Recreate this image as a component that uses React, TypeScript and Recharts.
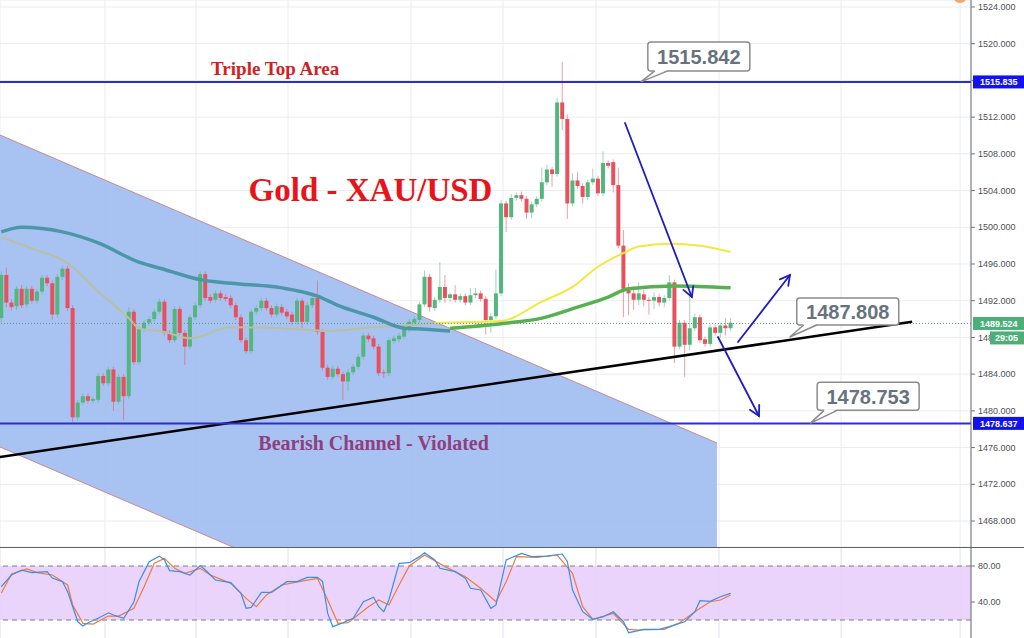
import React from 'react';
import {
  ComposedChart,
  Bar,
  Line,
  Area,
  XAxis,
  YAxis,
  CartesianGrid,
  ReferenceLine,
  ReferenceDot,
  ReferenceArea,
} from 'recharts';

// OHLC per candle (index = position on the time axis)
const candles: [number, number, number, number][] = [
  [1490.1, 1495.2, 1489.6, 1494.8], [1494.8, 1495.6, 1491.3, 1491.8], [1491.8, 1492.2, 1490.9, 1491.3],
  [1491.4, 1493.6, 1491.0, 1493.3], [1493.3, 1493.7, 1491.2, 1491.5], [1491.6, 1493.6, 1491.3, 1493.3],
  [1493.3, 1493.6, 1491.7, 1492.0], [1492.0, 1493.3, 1491.7, 1493.0], [1493.0, 1494.8, 1492.7, 1494.5],
  [1494.5, 1494.8, 1493.6, 1493.9], [1493.9, 1494.2, 1489.9, 1490.5], [1490.5, 1494.9, 1490.2, 1494.6],
  [1494.6, 1495.8, 1494.3, 1495.5], [1495.5, 1495.8, 1490.9, 1491.2], [1491.2, 1491.5, 1478.8, 1479.3],
  [1479.3, 1481.2, 1478.9, 1480.9], [1480.9, 1481.9, 1480.6, 1481.6], [1481.6, 1481.9, 1480.8, 1481.1],
  [1481.1, 1481.5, 1480.8, 1481.3], [1481.2, 1484.1, 1480.9, 1483.8], [1483.8, 1484.1, 1482.7, 1483.0],
  [1483.0, 1484.8, 1482.7, 1484.5], [1484.5, 1484.8, 1480.0, 1481.0], [1481.0, 1484.0, 1480.7, 1483.7],
  [1483.7, 1484.0, 1479.0, 1481.6], [1481.6, 1491.3, 1481.3, 1490.8], [1490.8, 1491.1, 1485.0, 1485.3],
  [1485.3, 1489.2, 1485.0, 1488.9], [1488.9, 1489.9, 1488.6, 1489.6], [1489.6, 1490.3, 1489.3, 1490.0],
  [1490.0, 1491.1, 1489.7, 1490.8], [1490.8, 1492.2, 1490.5, 1491.9], [1491.9, 1492.2, 1488.2, 1488.5],
  [1488.5, 1488.8, 1487.4, 1487.7], [1487.7, 1491.4, 1487.4, 1491.1], [1491.1, 1491.4, 1488.2, 1488.5],
  [1488.5, 1488.8, 1485.0, 1487.0], [1487.0, 1490.5, 1486.7, 1490.2], [1490.2, 1491.8, 1489.9, 1491.5],
  [1491.5, 1495.2, 1491.2, 1494.9], [1494.9, 1495.2, 1492.0, 1492.3], [1492.4, 1492.7, 1491.7, 1492.0],
  [1492.1, 1493.1, 1491.8, 1492.8], [1492.8, 1493.1, 1492.0, 1492.3], [1492.4, 1492.7, 1491.9, 1492.2],
  [1492.3, 1492.6, 1491.2, 1491.5], [1491.5, 1491.8, 1489.9, 1490.2], [1490.2, 1490.5, 1487.4, 1487.7],
  [1487.7, 1488.0, 1486.2, 1486.5], [1486.5, 1491.1, 1486.2, 1490.8], [1490.8, 1491.5, 1490.5, 1491.2],
  [1491.2, 1492.3, 1490.9, 1492.0], [1492.0, 1492.3, 1490.9, 1491.2], [1491.2, 1491.5, 1490.2, 1490.5],
  [1490.5, 1491.7, 1490.2, 1491.4], [1491.3, 1491.6, 1490.4, 1490.7], [1490.8, 1491.1, 1490.0, 1490.3],
  [1490.5, 1490.8, 1489.4, 1489.7], [1489.7, 1492.3, 1489.4, 1492.0], [1492.0, 1492.3, 1489.0, 1489.7],
  [1489.7, 1491.8, 1489.4, 1491.5], [1491.5, 1492.6, 1491.2, 1492.3], [1492.3, 1494.2, 1488.3, 1488.6],
  [1488.6, 1488.9, 1484.4, 1484.7], [1484.7, 1485.0, 1483.4, 1483.7], [1483.7, 1484.9, 1483.4, 1484.6],
  [1484.6, 1484.9, 1483.7, 1484.0], [1484.0, 1484.3, 1481.2, 1483.2], [1483.2, 1484.5, 1482.2, 1484.2],
  [1484.2, 1485.1, 1483.9, 1484.8], [1484.8, 1486.2, 1484.5, 1485.9], [1485.9, 1488.5, 1485.6, 1488.2],
  [1488.2, 1488.5, 1487.5, 1487.8], [1487.9, 1488.2, 1486.7, 1487.0], [1487.0, 1487.3, 1483.8, 1484.1],
  [1484.2, 1484.5, 1483.6, 1484.1], [1484.1, 1488.0, 1483.8, 1487.7], [1487.6, 1488.2, 1487.3, 1487.9],
  [1487.8, 1488.5, 1487.5, 1488.2], [1488.1, 1489.3, 1487.8, 1489.0], [1488.9, 1490.0, 1488.6, 1489.7],
  [1489.6, 1490.3, 1489.3, 1490.0], [1489.9, 1491.9, 1489.6, 1491.6], [1491.6, 1495.3, 1491.3, 1494.6],
  [1494.6, 1494.9, 1490.8, 1491.3], [1491.2, 1492.4, 1490.9, 1492.1], [1492.1, 1496.2, 1491.8, 1493.5],
  [1493.5, 1494.8, 1491.8, 1492.3], [1492.3, 1492.9, 1491.9, 1492.7], [1492.7, 1493.7, 1491.8, 1492.1],
  [1492.1, 1492.8, 1491.8, 1492.5], [1492.5, 1492.8, 1491.5, 1491.8], [1491.8, 1493.4, 1491.5, 1492.6],
  [1492.6, 1493.4, 1492.3, 1492.8], [1492.8, 1493.1, 1491.9, 1492.2], [1492.2, 1492.5, 1488.3, 1489.9],
  [1489.9, 1490.6, 1488.5, 1490.3], [1490.3, 1495.4, 1490.0, 1492.8], [1492.8, 1503.0, 1492.5, 1502.6],
  [1502.6, 1502.9, 1499.5, 1501.1], [1501.1, 1503.6, 1500.8, 1503.2], [1503.2, 1503.8, 1502.9, 1503.5],
  [1503.5, 1503.9, 1502.8, 1503.1], [1503.1, 1503.4, 1500.9, 1501.6], [1501.6, 1502.8, 1501.0, 1502.5],
  [1502.5, 1503.4, 1502.2, 1503.1], [1503.1, 1506.5, 1502.8, 1504.9], [1504.9, 1506.8, 1504.6, 1506.3],
  [1506.3, 1506.6, 1504.4, 1505.8], [1505.8, 1514.1, 1505.5, 1513.6], [1513.6, 1518.0, 1510.6, 1511.8],
  [1511.8, 1512.3, 1500.9, 1502.6], [1502.6, 1505.9, 1502.3, 1505.1], [1505.1, 1506.0, 1504.2, 1504.5],
  [1504.5, 1504.8, 1502.6, 1503.3], [1503.3, 1505.2, 1503.0, 1504.9], [1504.9, 1506.4, 1504.6, 1505.3],
  [1505.3, 1505.6, 1503.4, 1503.7], [1503.7, 1508.3, 1503.4, 1507.0], [1507.0, 1507.3, 1506.4, 1506.7],
  [1507.1, 1507.4, 1503.8, 1504.6], [1504.6, 1506.5, 1497.7, 1498.0], [1498.0, 1499.7, 1490.2, 1493.3],
  [1493.3, 1493.9, 1490.4, 1492.8], [1492.8, 1493.6, 1491.0, 1492.1], [1492.1, 1494.0, 1491.5, 1492.8],
  [1492.7, 1493.2, 1491.4, 1492.1], [1492.1, 1492.4, 1490.5, 1492.0], [1492.0, 1492.9, 1491.1, 1492.4],
  [1492.4, 1492.7, 1491.4, 1491.8], [1491.8, 1492.6, 1491.3, 1492.3], [1492.3, 1494.8, 1492.0, 1494.0],
  [1494.0, 1494.3, 1485.2, 1487.0], [1487.0, 1489.9, 1486.7, 1489.6], [1489.6, 1489.9, 1483.7, 1487.2],
  [1487.2, 1492.6, 1486.6, 1489.0], [1489.0, 1490.6, 1488.7, 1490.2], [1490.2, 1490.5, 1487.4, 1487.7],
  [1487.8, 1488.1, 1487.0, 1487.3], [1487.3, 1489.4, 1487.0, 1489.1], [1489.1, 1489.4, 1488.2, 1488.5],
  [1488.5, 1489.6, 1488.0, 1489.3], [1489.3, 1490.1, 1488.2, 1489.0], [1489.0, 1490.1, 1488.7, 1489.6],
];

// moving averages read as [candle index, price]
const maPale: [number, number][] = [
  [0, 1498.9], [6, 1497.7], [13, 1496.1], [19, 1493.0], [25, 1490.1], [27, 1489.0], [32, 1488.6],
  [37, 1487.9], [45, 1489.1], [55, 1489.0], [64, 1488.7], [73, 1489.1], [79, 1489.3], [85, 1489.6],
];
const maYellow: [number, number][] = [
  [85, 1489.6], [98, 1489.8], [106, 1491.9], [112, 1493.5], [117, 1495.7], [122, 1497.2],
  [125, 1497.9], [131, 1498.2], [137, 1498.0], [143, 1497.3],
];
const maTeal: [number, number][] = [
  [0, 1499.5], [4, 1500.0], [12, 1499.5], [19, 1498.3], [27, 1496.2], [32, 1495.4], [39, 1494.3],
  [45, 1493.9], [55, 1493.4], [62, 1492.5], [66, 1491.5], [73, 1490.2], [79, 1489.0], [83, 1488.9], [88, 1488.7],
];
const maGreen: [number, number][] = [
  [88, 1489.0], [98, 1489.5], [106, 1490.1], [113, 1491.3], [119, 1492.4], [123, 1493.3], [132, 1493.6], [143, 1493.4],
];

// stochastic %K / %D as [candle index, value]
const stochK: [number, number][] = [
  [0, 57], [2, 70], [4, 75.5], [6, 72.6], [9, 73.7], [10, 66.6], [12, 62.6], [13, 51.5], [15, 18], [16, 13.3],
  [17, 17], [19, 22], [21, 28], [22, 25.5], [24, 22], [26, 40], [27, 62.6], [29, 84.8], [31, 91], [32, 86.7],
  [33, 74.8], [35, 73.7], [37, 70], [39, 80.4], [40, 75.5], [42, 64.4], [45, 61.5], [47, 49.6], [48, 33], [49, 34],
  [51, 50.7], [53, 50.7], [56, 62.6], [58, 62.6], [60, 67.4], [62, 67.4], [63, 62.6], [64, 27.4], [65, 12.6],
  [67, 17], [69, 21.9], [71, 40.3], [73, 45.2], [74, 34.8], [75, 29.2], [76, 42.2], [78, 83], [80, 83.7],
  [82, 90.4], [83, 94.8], [85, 86.7], [86, 77.4], [89, 73.7], [91, 66.3], [92, 55.2], [94, 53.3], [96, 33],
  [97, 36.7], [99, 86.7], [102, 94], [104, 90.4], [107, 91], [110, 93.3], [111, 84.8], [112, 53.3], [114, 29.2],
  [116, 20.7], [118, 23.7], [120, 29.2], [122, 18.1], [123, 5.9], [126, 9.6], [129, 9.6], [131, 12.6],
  [134, 18.1], [136, 29.2], [137, 41.5], [139, 40.7], [141, 45.9], [143, 49.6],
];
const stochD: [number, number][] = [
  [0, 50], [2, 71], [5, 76.7], [7, 72.6], [10, 70], [13, 58.9], [14, 36.7], [16, 16.3], [18, 15.5], [21, 24.4],
  [23, 24.4], [26, 33], [28, 57], [30, 83], [32, 88.5], [34, 77.4], [36, 71.9], [39, 77.4], [41, 70], [45, 60.7],
  [48, 44], [50, 34.8], [52, 47.8], [55, 58.9], [60, 64.4], [62, 66.3], [64, 42.2], [66, 16.3], [68, 17],
  [72, 34.8], [74, 42.2], [76, 36.7], [78, 58.9], [80, 80], [83, 92.2], [87, 79.3], [91, 68.1], [94, 55.2],
  [97, 40.3], [99, 62.6], [101, 90.4], [105, 89.6], [109, 92.2], [112, 71.9], [114, 34.8], [116, 20.7],
  [120, 27.4], [123, 9.6], [125, 8.9], [130, 9.6], [133, 17], [137, 33], [139, 40.3], [141, 42.2], [143, 47.8],
];

// bearish channel edges [index, lower, upper]
const channel: [number, number, number][] = [
  [-0.255, 1476.07, 1510.05],
  [140.33, 1442.5, 1476.5],
];

const priceTicks = [1468, 1472, 1476, 1480, 1484, 1488, 1492, 1496, 1500, 1504, 1508, 1512, 1516, 1520, 1524];
const stochTicks = [40, 80];
const sessionBreaks = [20.33, 38.18, 56.22, 80.33, 98.37, 116.6, 140.73, 164.67, 188.0];

const tripleTop = 1515.835;
const support = 1478.637;
const lastPrice = 1489.524;
const countdown = '29:05';

const trendLine = [{ x: -0.255, y: 1474.98 }, { x: 178.6, y: 1489.72 }];
const arrows = [
  [{ x: 122.3, y: 1511.36 }, { x: 135.4, y: 1492.41 }],
  [{ x: 144.45, y: 1487.51 }, { x: 154.65, y: 1494.8 }],
  [{ x: 140.53, y: 1488.05 }, { x: 148.57, y: 1479.44 }],
];
const callouts = [
  { x: 125.4, y: 1515.84, text: '1515.842', up: 40, h: 29 },
  { x: 154.6, y: 1488.05, text: '1487.808', up: 39, h: 27 },
  { x: 158.6, y: 1478.64, text: '1478.753', up: 41, h: 28 },
];

const X_DOMAIN: [number, number] = [-0.255, 190.14];
const PRICE_DOMAIN: [number, number] = [1465.17, 1524.76];

const GREEN = '#53b67f';
const RED = '#e9505e';
const SANS = '"Liberation Sans", Arial, sans-serif';
const SERIF = '"Liberation Serif", "Times New Roman", serif';
const MARGIN = { top: 0, right: 0, bottom: 0, left: 0 };

const lookup = (pairs: [number, number][], i: number) => {
  const hit = pairs.find((p) => p[0] === i);
  return hit ? hit[1] : null;
};

const rows = candles.map(([o, h, l, c], i) => ({
  i,
  o,
  h,
  l,
  c,
  range: [l, h],
  pale: lookup(maPale, i),
  yellow: lookup(maYellow, i),
  teal: lookup(maTeal, i),
  green: lookup(maGreen, i),
}));

const stochRows = candles.map((_, i) => ({ i, k: lookup(stochK, i), d: lookup(stochD, i) }));
const channelRows = channel.map(([i, lo, hi]) => ({ i, band: [lo, hi] }));

function Candle(props: any) {
  const { x, y, width, height, payload } = props;
  if (!payload || x == null || y == null) return null;
  const { o, h, l, c } = payload;
  const top = Math.min(y, y + height);
  const span = Math.abs(height) || 1;
  const toY = (p: number) => top + ((h - p) / (h - l)) * span;
  const color = c >= o ? GREEN : RED;
  const bodyTop = toY(Math.max(o, c));
  const bodyH = Math.max(1, toY(Math.min(o, c)) - bodyTop);
  const cx = x + width / 2;
  return (
    <g>
      <line x1={cx} x2={cx} y1={top} y2={top + span} stroke={color} strokeWidth={1} opacity={0.55} />
      <rect x={cx - 2} y={bodyTop} width={4} height={bodyH} fill={color} />
    </g>
  );
}

function ArrowShape(props: any) {
  const { x1, y1, x2, y2 } = props;
  if (x1 == null) return null;
  const ang = Math.atan2(y2 - y1, x2 - x1);
  const len = 11;
  const spread = 0.5;
  const ax = x2 - len * Math.cos(ang - spread);
  const ay = y2 - len * Math.sin(ang - spread);
  const bx = x2 - len * Math.cos(ang + spread);
  const by = y2 - len * Math.sin(ang + spread);
  return (
    <g stroke="#1d1dc4" strokeWidth={1.8} fill="none" strokeLinecap="round">
      <line x1={x1} y1={y1} x2={x2} y2={y2} />
      <polyline points={`${ax},${ay} ${x2},${y2} ${bx},${by}`} />
    </g>
  );
}

function Callout({ cx, cy, text, up, h }: any) {
  const left = cx + 7;
  const top = cy - up;
  const w = 102;
  return (
    <g>
      <rect x={left} y={top} width={w} height={h} rx={3} fill="#fff" stroke="#8c8c8c" strokeWidth={1.5} />
      <polygon points={`${cx},${cy} ${left + 7},${top + h - 1} ${left + 20},${top + h - 1}`} fill="#fff" />
      <polyline
        points={`${left + 7},${top + h} ${cx},${cy} ${left + 20},${top + h}`}
        fill="none"
        stroke="#8c8c8c"
        strokeWidth={1.5}
      />
      <text
        x={left + w / 2}
        y={top + h / 2}
        dy="0.36em"
        textAnchor="middle"
        fontSize={20}
        fontWeight="bold"
        fill="#67727f"
        fontFamily={SANS}
      >
        {text}
      </text>
    </g>
  );
}

const badge = (text: string, bg: string, extra?: string) => (p: any) => {
  const vb = p.viewBox || {};
  const x = (vb.x ?? 0) + (vb.width ?? 0) + 2;
  const y = vb.y ?? 0;
  return (
    <g>
      <rect x={x} y={y - 6.5} width={52} height={13} fill={bg} />
      <text x={x + 7} y={y} dy="0.35em" fontSize={9} fontWeight="bold" fill="#fff" fontFamily={SANS}>
        {text}
      </text>
      {extra && (
        <g>
          <rect x={x + 17} y={y + 8} width={35} height={13} fill={bg} />
          <text x={x + 22} y={y + 14.5} dy="0.35em" fontSize={9} fontWeight="bold" fill="#fff" fontFamily={SANS}>
            {extra}
          </text>
        </g>
      )}
    </g>
  );
};

const textAt = (text: string, size: number, color: string) => (p: any) => (
  <text x={p.cx} y={p.cy} textAnchor="middle" fontSize={size} fontWeight="bold" fill={color} fontFamily={SERIF}>
    {text}
  </text>
);

const axisProps = {
  orientation: 'right' as const,
  width: 53,
  allowDataOverflow: true,
  interval: 0 as const,
  tickSize: 4,
  tickMargin: 3,
  tick: { fontSize: 9, fill: '#4d4f57', fontFamily: SANS },
  tickLine: { stroke: '#777' },
  axisLine: { stroke: '#6b6e78' },
};

export default function App() {
  return (
    <div
      style={{
        position: 'absolute',
        left: 0,
        top: 0,
        width: 1024,
        height: 638,
        background: '#fff',
        overflow: 'hidden',
      }}
    >
      <div style={{ position: 'relative', width: 1024, height: 547 }}>
        <ComposedChart width={1024} height={547} data={rows} margin={MARGIN}>
          <CartesianGrid stroke="#eaecf0" />
          <XAxis type="number" dataKey="i" domain={X_DOMAIN} ticks={sessionBreaks} hide allowDataOverflow />
          <YAxis
            {...axisProps}
            domain={PRICE_DOMAIN}
            ticks={priceTicks}
            tickFormatter={(v: number) => v.toFixed(3)}
          />
          <Area
            data={channelRows}
            dataKey="band"
            type="linear"
            fill="#9fbcf0"
            fillOpacity={0.9}
            stroke="#c48a96"
            strokeWidth={1}
            dot={false}
            activeDot={false}
            isAnimationActive={false}
          />
          <Line dataKey="pale" type="monotone" stroke="#b9c09f" strokeWidth={2} dot={false} connectNulls isAnimationActive={false} />
          <Line dataKey="teal" type="monotone" stroke="#4b97a9" strokeWidth={3.5} dot={false} connectNulls isAnimationActive={false} />
          <Line dataKey="yellow" type="monotone" stroke="#f3e83b" strokeWidth={2} dot={false} connectNulls isAnimationActive={false} />
          <Line dataKey="green" type="monotone" stroke="#56b250" strokeWidth={3.5} dot={false} connectNulls isAnimationActive={false} />
          <ReferenceLine y={lastPrice} stroke="#5e9e82" strokeDasharray="1 2" />
          <Bar dataKey="range" barSize={4} shape={<Candle />} isAnimationActive={false} />
          <ReferenceLine segment={trendLine} stroke="#000" strokeWidth={2.5} />
          <ReferenceLine y={tripleTop} stroke="#2d2dd2" strokeWidth={2} />
          <ReferenceLine y={support} stroke="#2d2dd2" strokeWidth={2} />
          {arrows.map((seg, k) => (
            <ReferenceLine key={k} segment={seg} shape={ArrowShape} />
          ))}
          {callouts.map((c) => (
            <ReferenceDot
              key={c.text}
              x={c.x}
              y={c.y}
              r={0}
              shape={(p: any) => <Callout cx={p.cx} cy={p.cy} text={c.text} up={c.up} h={c.h} />}
            />
          ))}
          <ReferenceDot x={53.7} y={1516.6} r={0} shape={textAt('Triple Top Area', 19, '#d31f24')} />
          <ReferenceDot x={72.4} y={1502.86} r={0} shape={textAt('Gold - XAU/USD', 33, '#e8141a')} />
          <ReferenceDot x={73.0} y={1475.74} r={0} shape={textAt('Bearish Channel - Violated', 20, '#8f3f7f')} />
          <ReferenceDot x={188} y={1525.2} r={7} fill="#f6a56e" stroke="none" ifOverflow="visible" />
        </ComposedChart>
        {/* price badges on the axis, layered above the tick labels */}
        <div style={{ position: 'absolute', left: 0, top: 0, pointerEvents: 'none' }}>
          <ComposedChart width={1024} height={547} data={rows} margin={MARGIN}>
            <XAxis type="number" dataKey="i" domain={X_DOMAIN} hide allowDataOverflow />
            <YAxis
              orientation="right"
              width={53}
              domain={PRICE_DOMAIN}
              allowDataOverflow
              tick={false}
              tickLine={false}
              axisLine={false}
            />
            <ReferenceLine y={lastPrice} stroke="none" label={badge(lastPrice.toFixed(3), '#4caf78', countdown)} />
            <ReferenceLine y={tripleTop} stroke="none" label={badge(tripleTop.toFixed(3), '#1212ee')} />
            <ReferenceLine y={support} stroke="none" label={badge(support.toFixed(3), '#1212ee')} />
          </ComposedChart>
        </div>
      </div>
      <div style={{ height: 1, background: '#5d606b' }} />
      <ComposedChart width={1024} height={90} data={stochRows} margin={MARGIN}>
        <CartesianGrid horizontal={false} stroke="#e3dfea" />
        <XAxis type="number" dataKey="i" domain={X_DOMAIN} ticks={sessionBreaks} hide allowDataOverflow />
        <YAxis {...axisProps} domain={[0, 100]} ticks={stochTicks} tickFormatter={(v: number) => v.toFixed(2)} />
        <ReferenceArea y1={20} y2={80} fill="#e8cdfa" fillOpacity={0.85} stroke="none" />
        <ReferenceLine y={80} stroke="#7d7a88" strokeDasharray="5 4" />
        <ReferenceLine y={20} stroke="#7d7a88" strokeDasharray="5 4" />
        <Line dataKey="d" type="linear" stroke="#f07a3e" strokeWidth={1.2} dot={false} connectNulls isAnimationActive={false} />
        <Line dataKey="k" type="linear" stroke="#3a8ee8" strokeWidth={1.2} dot={false} connectNulls isAnimationActive={false} />
      </ComposedChart>
    </div>
  );
}
